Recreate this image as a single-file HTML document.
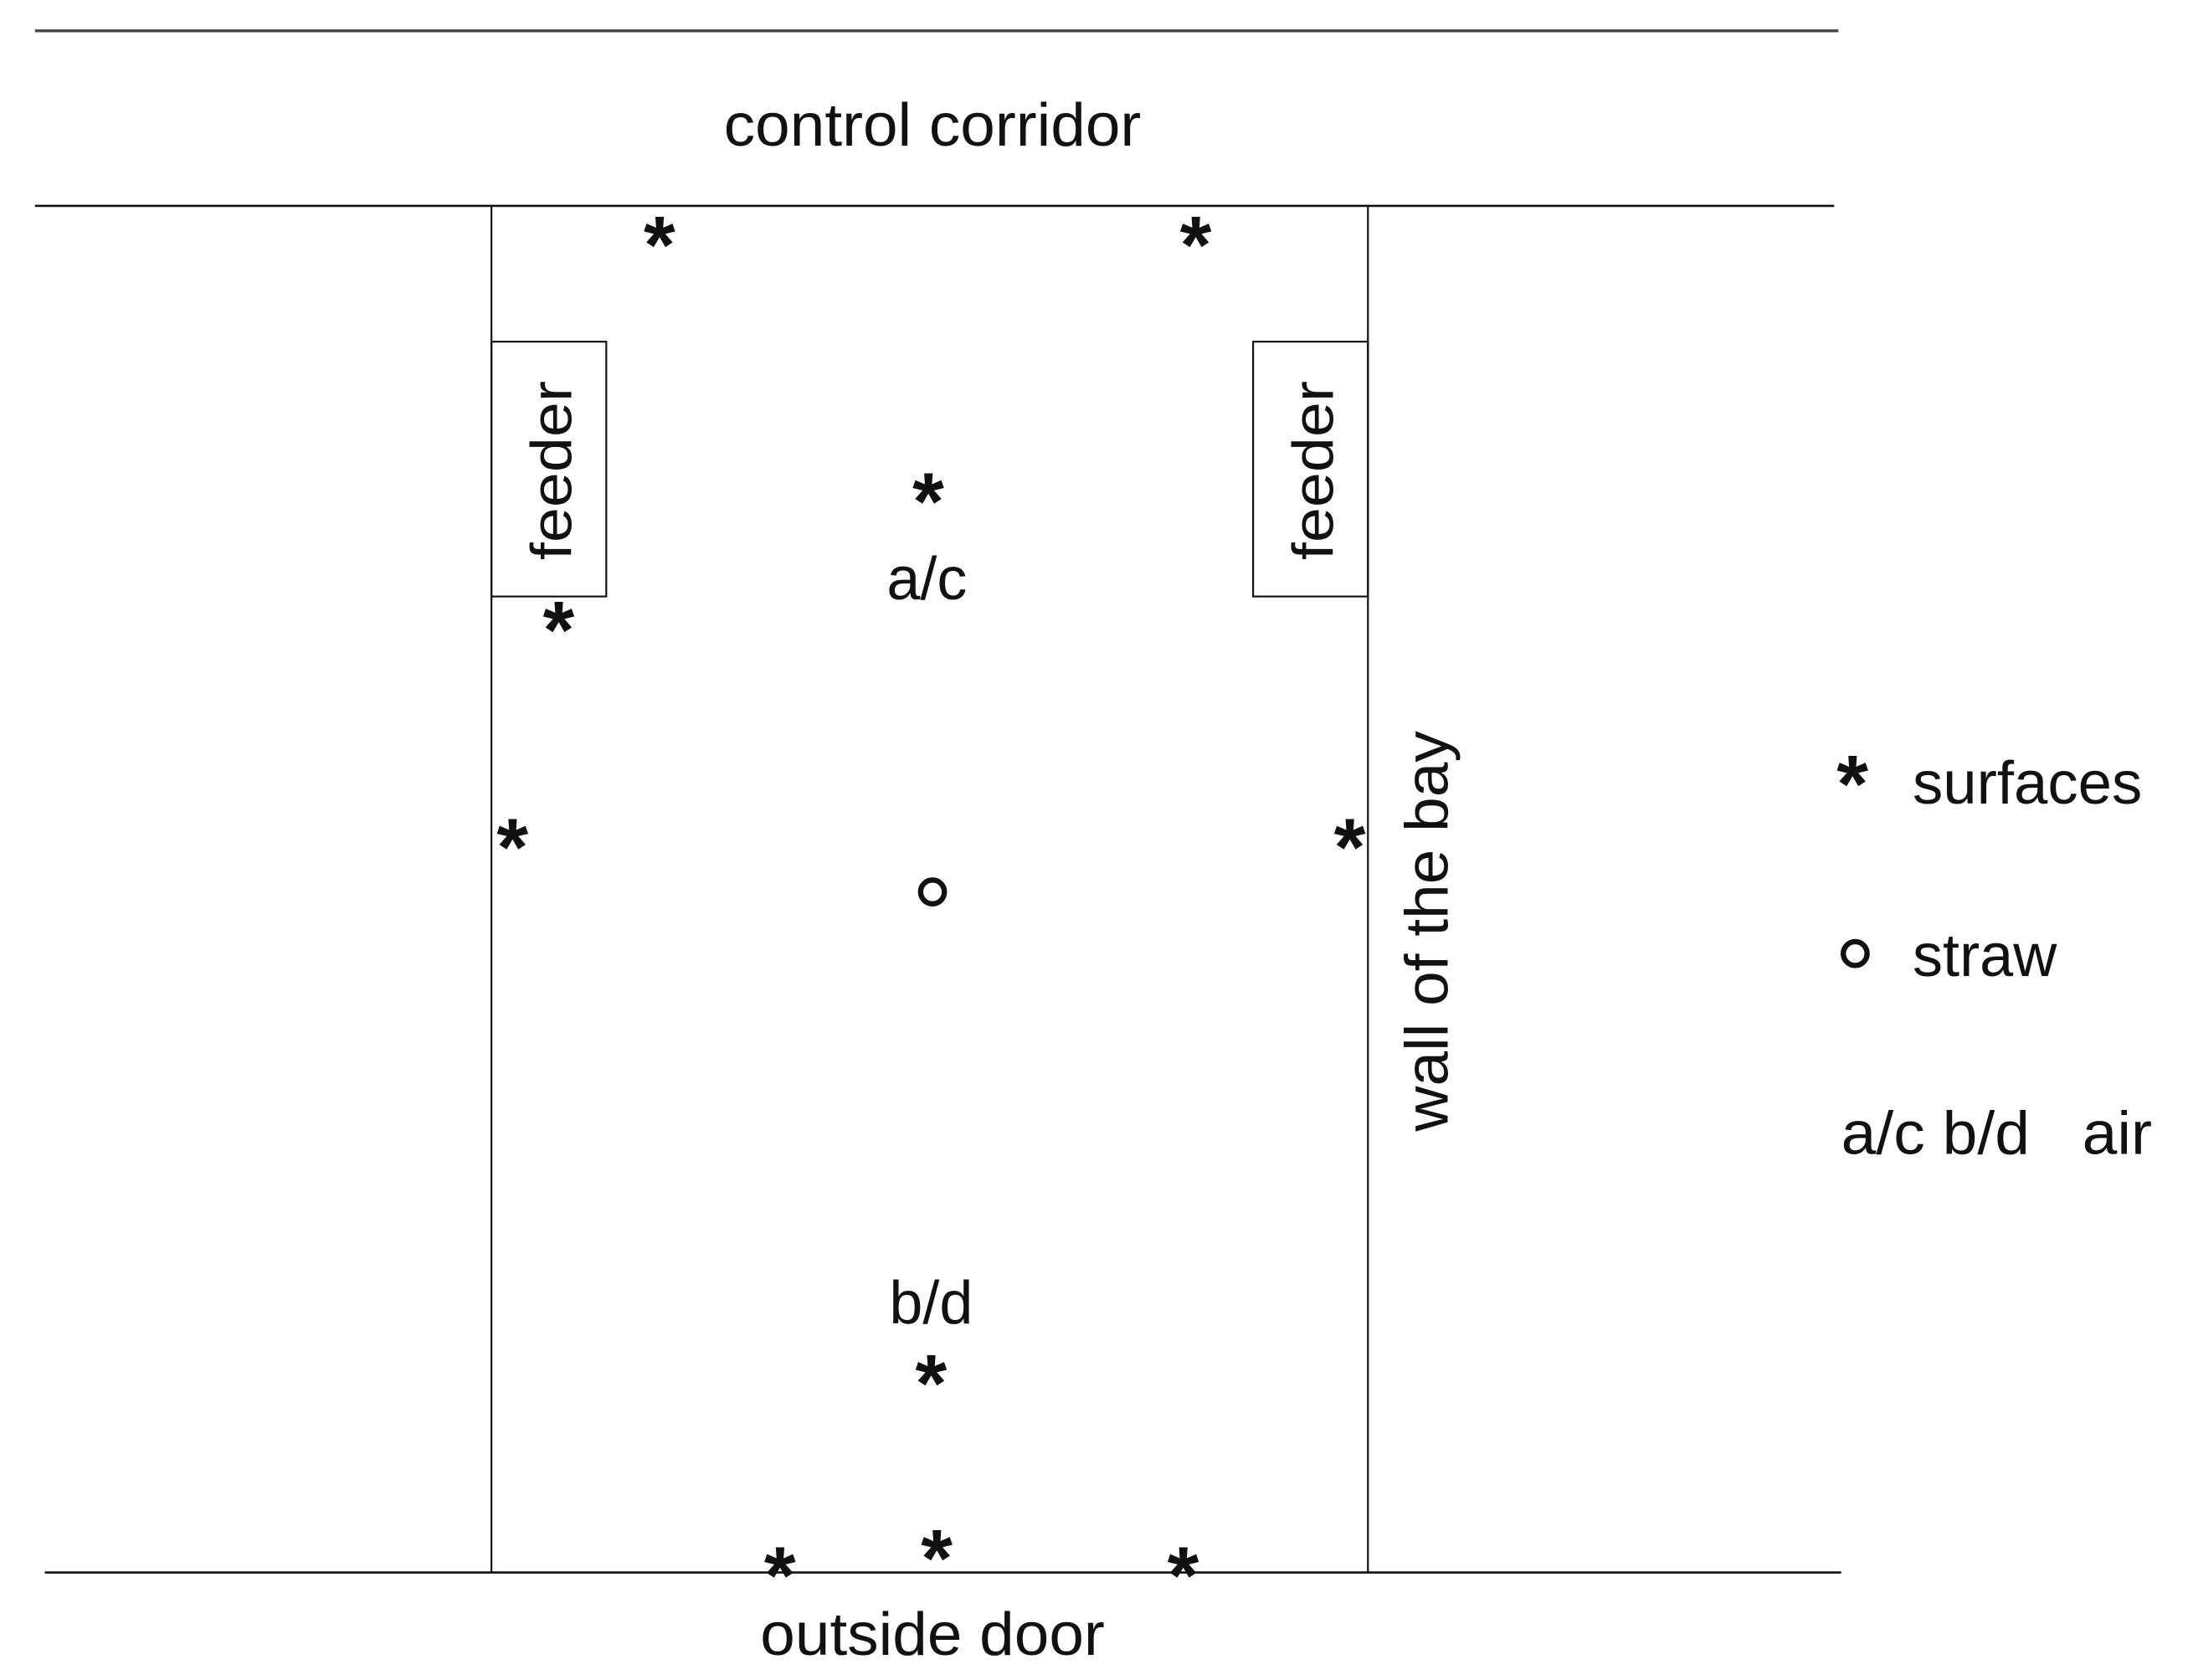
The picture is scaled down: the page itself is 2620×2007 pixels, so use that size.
<!DOCTYPE html>
<html><head><meta charset="utf-8"><style>
html,body{margin:0;padding:0;background:#fff;}
svg{display:block;}
text{font-family:"Liberation Sans",Arial,sans-serif;fill:#111;}
.a{font-weight:bold;font-size:58px;text-anchor:middle;}
</style></head><body>
<svg width="2620" height="2007" viewBox="0 0 1560 1195" xmlns="http://www.w3.org/2000/svg">
<rect width="1560" height="1195" fill="#fff"/>
<g transform="scale(0.996)">
<g stroke="#111" fill="none">
<line x1="25" y1="22" x2="1313" y2="22" stroke-width="2" stroke="#444"/>
<line x1="25" y1="147" x2="1310" y2="147" stroke-width="1.6"/>
<line x1="351" y1="147" x2="351" y2="1123" stroke-width="1.3"/>
<line x1="977" y1="147" x2="977" y2="1123" stroke-width="1.3"/>
<line x1="32" y1="1123" x2="1315" y2="1123" stroke-width="1.6"/>
<rect x="351" y="244" width="82" height="182" stroke-width="1.3"/>
<rect x="895" y="244" width="82" height="182" stroke-width="1.3"/>
<circle cx="666" cy="637" r="8.5" stroke-width="3.8"/>
<circle cx="1325" cy="681" r="8.5" stroke-width="3.8"/>
</g>
<text x="666" y="104" font-size="43" text-anchor="middle" textLength="298" lengthAdjust="spacingAndGlyphs">control corridor</text>
<text x="666" y="1182" font-size="43" text-anchor="middle" textLength="246" lengthAdjust="spacingAndGlyphs">outside door</text>
<text x="662" y="428" font-size="43" text-anchor="middle">a/c</text>
<text x="665" y="945" font-size="43" text-anchor="middle">b/d</text>
<text transform="translate(408,336) rotate(-90)" font-size="41" text-anchor="middle" textLength="128" lengthAdjust="spacingAndGlyphs">feeder</text>
<text transform="translate(952,336) rotate(-90)" font-size="41" text-anchor="middle" textLength="128" lengthAdjust="spacingAndGlyphs">feeder</text>
<text transform="translate(1034,665) rotate(-90)" font-size="43" text-anchor="middle" textLength="286" lengthAdjust="spacingAndGlyphs">wall of the bay</text>
<text x="1366" y="574" font-size="43" textLength="164" lengthAdjust="spacingAndGlyphs">surfaces</text>
<text x="1366" y="697" font-size="43" textLength="103" lengthAdjust="spacingAndGlyphs">straw</text>
<text x="1315" y="824" font-size="43" textLength="222" lengthAdjust="spacingAndGlyphs" xml:space="preserve">a/c b/d   air</text>
<g class="a">
<text x="471" y="195" class="a">*</text>
<text x="854" y="195" class="a">*</text>
<text x="663" y="378" class="a">*</text>
<text x="399" y="470" class="a">*</text>
<text x="366" y="625" class="a">*</text>
<text x="964" y="625" class="a">*</text>
<text x="665" y="1008" class="a">*</text>
<text x="557" y="1145" class="a">*</text>
<text x="669" y="1133" class="a">*</text>
<text x="845" y="1145" class="a">*</text>
<text x="1323" y="580" class="a">*</text>
</g>
</g>
</svg>
</body></html>
